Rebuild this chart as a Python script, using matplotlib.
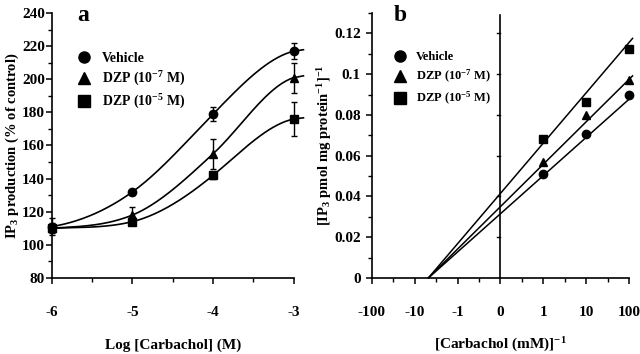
import numpy as np
import matplotlib
matplotlib.use('Agg')
import matplotlib.pyplot as plt
from matplotlib.lines import Line2D

plt.rcParams['font.family'] = ['Liberation Serif', 'DejaVu Serif']
plt.rcParams['font.weight'] = 'bold'
plt.rcParams['mathtext.fontset'] = 'custom'
plt.rcParams['mathtext.rm'] = 'Liberation Serif:bold'
plt.rcParams['mathtext.it'] = 'Liberation Serif:bold'
plt.rcParams['mathtext.bf'] = 'Liberation Serif:bold'

# ---- panel a data ----
log_carb = [-6, -5, -4, -3]
veh_a = [111, 132, 179, 217]
veh_a_err = [5, 2, 4, 5]
dzp7_a = [110, 118, 155, 201]
dzp7_a_err = [3, 5, 9, 9]
dzp5_a = [110, 114, 142, 176]
dzp5_a_err = [2, 2, 2, 10]
# slopes of the fitted curves at each concentration (curve knots)
veh_slope = [8, 35, 50, 12]
dzp7_slope = [3, 20, 45, 15]
dzp5_slope = [2, 12, 40, 10]

# ---- panel b data ----
inv_carb = [1, 10, 100]
veh_b = [0.051, 0.0706, 0.090]
dzp7_b = [0.0568, 0.080, 0.097]
dzp5_b = [0.068, 0.0864, 0.1126]
# double reciprocal fit lines: (y intercept, x intercept position)
line_veh = (0.0315, -1.68)
line_dzp7 = (0.035, -1.68)
line_dzp5 = (0.0415, -1.68)
b_tick_labels = ['-100', '-10', '-1', '0', '1', '10', '100']

labels = ['Vehicle', 'DZP (10$^{-7}$ M)', 'DZP (10$^{-5}$ M)']
markers = ['o', '^', 's']


def hermite_curve(x, y, m, x_end, n=40):
    # smooth curve through the points with given slopes
    xs_all, ys_all = [], []
    for i in range(len(x) - 1):
        h = x[i + 1] - x[i]
        t = np.linspace(0, 1, n)
        h00 = 2 * t**3 - 3 * t**2 + 1
        h10 = t**3 - 2 * t**2 + t
        h01 = -2 * t**3 + 3 * t**2
        h11 = t**3 - t**2
        xs_all.append(x[i] + t * h)
        ys_all.append(h00 * y[i] + h10 * h * m[i] + h01 * y[i + 1] + h11 * h * m[i + 1])
    # short flat tail past the last point
    tail = np.linspace(x[-1], x_end, 10)
    xs_all.append(tail)
    ys_all.append(y[-1] + m[-1] * (tail - x[-1]) * 0.6)
    return np.concatenate(xs_all), np.concatenate(ys_all)


fig = plt.figure(figsize=(6.4, 3.54), dpi=100)
ax1 = fig.add_axes([0.081, 0.215, 0.378, 0.748])
ax2 = fig.add_axes([0.581, 0.215, 0.402, 0.748])

for ax in (ax1, ax2):
    ax.spines['top'].set_visible(False)
    ax.spines['right'].set_visible(False)
    ax.spines['left'].set_linewidth(1.2)
    ax.spines['bottom'].set_linewidth(1.2)
    ax.tick_params(which='major', direction='out', length=4, width=1.1, labelsize=11)
    ax.tick_params(which='minor', direction='out', length=3, width=1.0)
    ax.tick_params(axis='x', which='major', pad=16)
    ax.tick_params(axis='y', which='major', pad=1)

# panel a
for y, e, s, m in zip([veh_a, dzp7_a, dzp5_a], [veh_a_err, dzp7_a_err, dzp5_a_err],
                      [veh_slope, dzp7_slope, dzp5_slope], markers):
    cx, cy = hermite_curve(log_carb, y, s, -2.88)
    ax1.plot(cx, cy, color='black', lw=1.2, clip_on=False)
    ax1.errorbar(log_carb, y, yerr=[e, e], fmt=m, color='black', ms=6,
                 capsize=2.5, elinewidth=1.0, capthick=1.0, clip_on=False)
ax1.set_xlim(-6, -3)
ax1.set_ylim(80, 240)
ax1.set_xticks([-6, -5, -4, -3])
ax1.set_xticklabels(['-6', '-5', '-4', '-3'])
ax1.set_xticks(np.arange(-6, -2.9, 0.5), minor=True)
ax1.set_yticks(np.arange(80, 241, 20))
ax1.set_yticks(np.arange(80, 241, 10), minor=True)
ax1.set_xlabel('Log [Carbachol] (M)', fontsize=11, fontweight='bold', labelpad=14)
ax1.set_ylabel('IP$_3$ production (% of control)', fontsize=10.5, fontweight='bold', labelpad=1)
ax1.text(0.13, 0.99, 'a', transform=ax1.transAxes, fontsize=17, fontweight='bold',
         ha='center', va='center')

# panel b
pos = np.log10(inv_carb) + 1
xl = np.linspace(-1.68, 3.08, 50)
for y, ln, m in zip([veh_b, dzp7_b, dzp5_b], [line_veh, line_dzp7, line_dzp5], markers):
    icpt, x0 = ln
    slope = -icpt / x0
    ax2.plot(xl, icpt + slope * xl, color='black', lw=1.1, clip_on=False)
    ax2.plot(pos, y, m, color='black', ms=6, clip_on=False)
ax2.axvline(0, ymin=0, ymax=0.129 / 0.13, color='black', lw=1.2)
for t in np.arange(0.02, 0.121, 0.02):
    ax2.plot([-0.08, 0], [t, t], color='black', lw=1.0)
ax2.set_xlim(-3, 3)
ax2.set_ylim(0, 0.13)
ax2.set_xticks(np.arange(-3, 4))
ax2.set_xticklabels(b_tick_labels)
ax2.set_xticks(np.arange(-3, 3.1, 0.5), minor=True)
ax2.set_yticks([0, 0.02, 0.04, 0.06, 0.08, 0.1, 0.12])
ax2.set_yticklabels(['0', '0.02', '0.04', '0.06', '0.08', '0.1', '0.12'])
ax2.set_yticks(np.arange(0, 0.131, 0.01), minor=True)
ax2.tick_params(axis='y', which='major', pad=4)
ax2.set_xlabel('[Carbachol (mM)]$^{-1}$', fontsize=11, fontweight='bold', labelpad=12)
ax2.set_ylabel('[IP$_3$ pmol mg protein$^{-1}$]$^{-1}$', fontsize=10.5, fontweight='bold', labelpad=0)
ax2.text(0.11, 0.99, 'b', transform=ax2.transAxes, fontsize=17, fontweight='bold',
         ha='center', va='center')

# legends
handles = [Line2D([], [], marker=m, color='black', ls='none', ms=8) for m in markers]
for ax, bx, fs in ((ax1, 0.08, 10), (ax2, 0.065, 9)):
    ax.legend(handles, labels, loc='upper left', bbox_to_anchor=(bx, 0.875), frameon=False,
              prop={'size': fs, 'weight': 'bold'}, handlelength=1.0, handletextpad=0.8,
              labelspacing=0.35 * 10 / fs, borderaxespad=0)

fig.savefig('out.png', dpi=100)
